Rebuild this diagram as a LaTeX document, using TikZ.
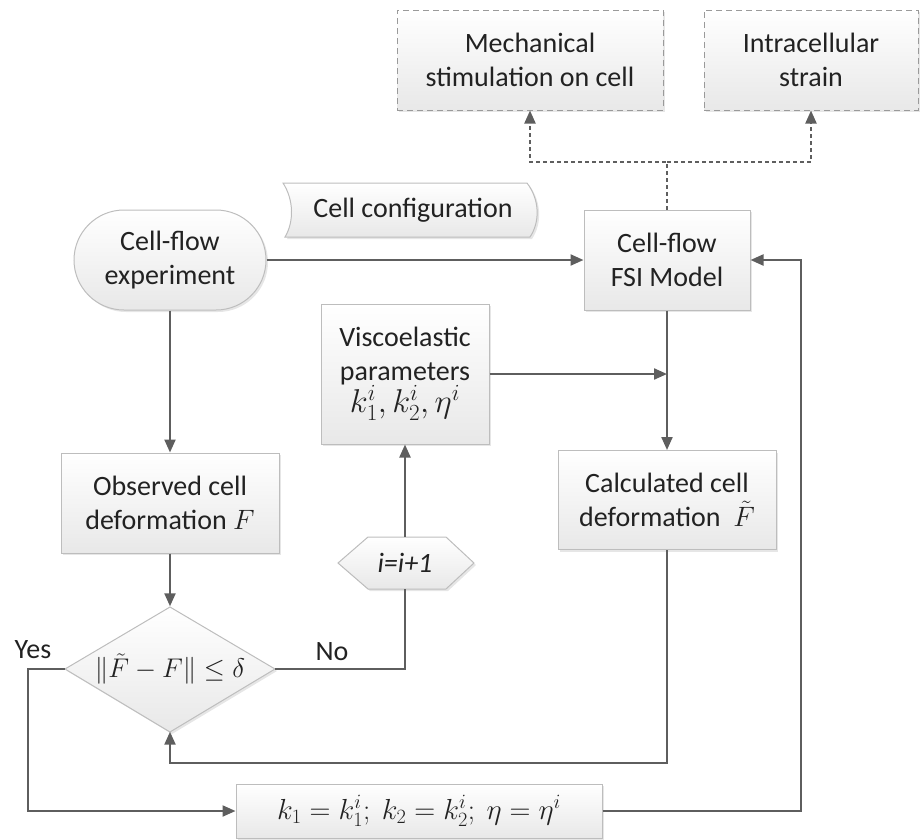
\RequirePackage{fix-cm}
\documentclass[tikz,border=0pt]{standalone}
\usepackage{fontspec}
\setmainfont{Carlito}
\usetikzlibrary{arrows.meta,shapes.geometric,shadows}

\definecolor{linec}{HTML}{5E5E5E}
\definecolor{bordc}{HTML}{BDBDBD}
\definecolor{dashc}{HTML}{9A9A9A}
\definecolor{txtc}{HTML}{222222}

\tikzset{
  base/.style={font=\fontsize{28}{34}\selectfont, text=txtc, align=center, inner sep=0pt},
  shade/.style={top color=white, bottom color=black!9,
    drop shadow={shadow xshift=2pt, shadow yshift=-2pt, opacity=0.22, fill=black!45}},
  box/.style={base, shade, draw=bordc, line width=1pt},
  dbox/.style={base, shade, draw=dashc, line width=1pt, dash pattern=on 6pt off 4pt},
  pbox/.style={shade, draw=bordc, line width=1pt},
  conn/.style={draw=linec, line width=2.2pt, -{Triangle[length=13pt,width=11pt]}},
  plain/.style={draw=linec, line width=2.2pt},
  dotconn/.style={draw=linec, line width=2pt, dash pattern=on 4pt off 3pt, -{Triangle[length=13pt,width=11pt]}},
  lbl/.style={font=\fontsize{28}{34}\selectfont, text=txtc, inner sep=0pt},
}

\begin{document}
\begin{tikzpicture}[x=1pt, y=-1pt]
\useasboundingbox (0,0) rectangle (922,839);

% output boxes
\node[dbox, minimum width=266, minimum height=100] (mech) at (530,60) {Mechanical\\stimulation on cell};
\node[dbox, minimum width=214, minimum height=100] (intra) at (811,60) {Intracellular\\strain};

% cell configuration (free shape)
\path[pbox] (283,183) .. controls (294,200) and (294,222) .. (285,237) -- (530,237)
   .. controls (540,222) and (540,200) .. (527,183) -- cycle;
\node[lbl] (cfg) at (413,210) {Cell configuration};

% main nodes
\node[box, rounded corners=50pt, minimum width=192, minimum height=100] (exp) at (170,260) {Cell-flow\\experiment};
\node[box, minimum width=166, minimum height=100] (fsi) at (667,260) {Cell-flow\\FSI Model};
\node[box, minimum width=168, minimum height=140] (visc) at (405,374) {Viscoelastic\\parameters\\[-2pt]{\fontsize{33}{36}\selectfont $k_1^i, k_2^i, \eta^i$}};
\node[box, minimum width=218, minimum height=100] (obs) at (170,503) {Observed cell\\deformation $F$};
\node[box, minimum width=218, minimum height=99] (calc) at (667,500) {Calculated cell\\deformation\ \ $\tilde F$};

% decision diamond
\path[pbox] (170,607) -- (275,669) -- (170,732) -- (65,669) -- cycle;
\node[base, minimum width=210, minimum height=125] (dec) at (170,669) {\fontsize{27}{32}\selectfont $\bigl\|\tilde F - F\bigr\| \le \delta$};

\node[box, minimum width=366, minimum height=54] (res) at (419,811) {\fontsize{29}{34}\selectfont $k_1 = k_1^i;\ k_2 = k_2^i;\ \eta = \eta^i$};

% hexagon i=i+1
\path[pbox] (338,563) -- (368,537) -- (446,537) -- (474,563) -- (446,589) -- (368,589) -- cycle;
\node[base, minimum width=136, minimum height=52] (inc) at (405,563) {\itshape i=i+1};

% helper coordinates
\coordinate (split) at (667,162);
\coordinate (lb) at (667,763);
\coordinate (yb) at (28,669);
\coordinate (rb) at (801,811);

% connectors
\draw[dotconn] (fsi.north) -- (split) -| (mech.south);
\draw[dotconn] (split) -| (intra.south);
\draw[conn] (exp.east) -- (fsi.west);
\draw[conn] (exp.south) -- (obs.north);
\draw[conn] (obs.south) -- (dec.north);
\draw[plain] (dec.east) -| (inc.south);
\draw[conn] (inc.north) -- (visc.south);
\draw[conn] (visc.east) -- (fsi.south |- visc.east);
\draw[conn] (fsi.south) -- (calc.north);
\draw[conn] (calc.south) -- (lb) -| (dec.south);
\draw[conn] (dec.west) -- (yb) |- (res.west);
\draw[conn] (res.east) -- (rb) |- (fsi.east);

% labels
\node[lbl] (yes) at (33,650) {Yes};
\node[lbl] (no) at (332,652) {No};
\end{tikzpicture}
\end{document}
